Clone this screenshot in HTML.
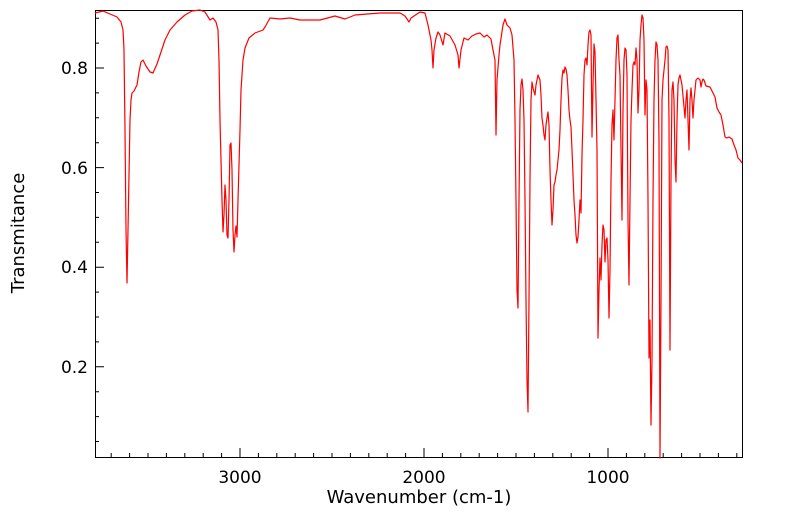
<!DOCTYPE html>
<html><head><meta charset="utf-8"><style>body{margin:0;background:#fff}svg{display:block}text{font-family:"DejaVu Sans","Liberation Sans",sans-serif;fill:#000}</style></head>
<body>
<svg width="799" height="516" xmlns="http://www.w3.org/2000/svg">
<path stroke="#000" stroke-width="1" fill="none" d="M111.2 457v-4M129.6 457v-4M148 457v-4M166.4 457v-4M184.8 457v-4M203.2 457v-4M221.6 457v-4M240 457v-9M258.4 457v-4M276.8 457v-4M295.2 457v-4M313.6 457v-4M332 457v-4M350.4 457v-4M368.8 457v-4M387.2 457v-4M405.6 457v-4M424 457v-9M442.4 457v-4M460.8 457v-4M479.2 457v-4M497.6 457v-4M516 457v-4M534.4 457v-4M552.8 457v-4M571.2 457v-4M589.6 457v-4M608 457v-9M626.4 457v-4M644.8 457v-4M663.2 457v-4M681.6 457v-4M700 457v-4M718.4 457v-4M736.8 457v-4M95 18.2h4M95 43.1h4M95 68h9M95 92.9h4M95 117.8h4M95 142.7h4M95 167.6h9M95 192.5h4M95 217.4h4M95 242.3h4M95 267.2h9M95 292.1h4M95 317h4M95 341.9h4M95 366.8h9M95 391.7h4M95 416.6h4M95 441.5h4"/>
<rect x="95.5" y="10.5" width="647" height="447" fill="none" stroke="#000" stroke-width="1"/>
<text x="88" y="74" font-size="17" text-anchor="end">0.8</text>
<text x="88" y="174" font-size="17" text-anchor="end">0.6</text>
<text x="88" y="273" font-size="17" text-anchor="end">0.4</text>
<text x="88" y="373" font-size="17" text-anchor="end">0.2</text>
<text x="240" y="483" font-size="17" text-anchor="middle">3000</text>
<text x="424" y="483" font-size="17" text-anchor="middle">2000</text>
<text x="608" y="483" font-size="17" text-anchor="middle">1000</text>
<text x="419" y="503" font-size="18" text-anchor="middle">Wavenumber (cm-1)</text>
<text transform="translate(24,233) rotate(-90)" font-size="18" text-anchor="middle">Transmitance</text>
<polyline fill="none" stroke="#ff0000" stroke-width="1.2" stroke-linejoin="round" points="95,13 103,11 110,14 117,17 121,22 123,30 124,50 125,130 126,230 127,283 128,230 130,120 131,100 132,93 134,91 137,85 139,72 141,62 143,60 146,66 150,72 153,73 157,64 161,52 165,40 170,30 177,22 185,15 192,11 200,10 205,12 210,20 213,18 216,22 218,30 219,60 220,120 222,200 223,232 224,215 225,185 226,200 227,235 228,238 229,200 230,145 231,143 232,170 233,230 234,252 235,235 236,226 237,237 238,200 240,130 241,90 243,60 245,48 249,38 255,33 263,30 265,27 270,18 280,19 290,18 300,20 320,20 335,16 345,19 355,15 380,13 400,13 405,16 409,22 411,18 420,12 425,13 428,25 431,40 432,50 433,68 434,50 436,38 438,32 440,35 443,45 445,33 450,36 455,45 458,55 459,68 461,50 464,38 468,40 472,36 476,34 480,33 484,37 487,35 491,39 493,50 495,60 496,135 497,80 499,55 500,45 503,25 505,19 507,25 510,28 512,35 514,60 515,120 516,200 517,290 518,308 519,200 520,110 521,85 522,79 523,90 524,120 525,200 526,300 527,380 528,412 529,300 530,180 531,100 532,82 533,88 535,95 536,85 538,75 540,80 541,95 542,118 543,125 544,135 545,140 546,125 547,118 548,112 549,125 550,170 551,200 552,225 553,210 554,185 555,182 556,175 557,170 558,160 559,150 560,130 561,100 562,78 563,70 564,73 565,67 566,69 567,75 568,90 569,110 570,120 571,127 572,150 573,175 574,200 575,215 576,235 577,243 578,237 579,220 580,200 581,213 582,155 583,120 584,75 585,60 586,58 587,65 588,45 589,32 590,30 591,35 592,137 593,85 594,44 595,52 596,100 597,150 598,338 599,290 600,258 601,280 602,245 603,225 604,230 605,262 606,240 607,238 608,260 609,318 610,270 611,180 612,125 613,110 614,140 615,100 616,60 617,38 618,35 619,60 620,75 621,150 622,220 623,110 624,60 625,48 626,50 627,75 628,220 629,285 630,200 631,120 632,90 633,65 634,62 635,65 636,48 637,60 638,113 639,90 640,40 641,25 642,15 643,18 644,40 645,115 646,80 647,90 648,200 649,358 650,320 651,425 652,360 653,200 654,100 655,60 656,42 657,45 658,60 659,140 660,458 661,300 662,100 663,80 664,70 665,60 666,47 667,46 668,50 669,120 670,350 671,180 672,90 673,82 674,100 675,160 676,182 677,120 678,85 679,78 680,75 682,85 685,118 686,100 687,90 688,120 689,150 690,100 691,88 692,100 693,118 694,100 696,80 698,78 700,80 701,87 702,82 703,79 704,80 706,86 710,87 713,93 715,97 717,108 719,112 721,115 723,125 725,137 727,138 729,137 732,139 734,145 736,150 738,158 740,160 742,163"/>
</svg>
</body></html>
